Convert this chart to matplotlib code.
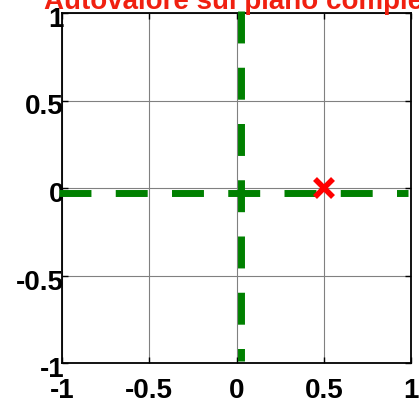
import matplotlib
matplotlib.use('Agg')
from matplotlib import pyplot as plt
from matplotlib import transforms

# data
real_axis_x = [-1, 1]
real_axis_y = [0, 0]
imag_axis_x = [0, 0]
imag_axis_y = [1, -1]
eig_re = [0.5]
eig_im = [0.0]
ticks = [-1, -0.5, 0, 0.5, 1]
tick_labels = ['-1', '-0.5', '0', '0.5', '1']

plt.rcParams['font.family'] = ['Liberation Sans', 'DejaVu Sans']
plt.rcParams['font.weight'] = 'bold'

fig = plt.figure(figsize=(4.19, 4.01), dpi=100)
ax = fig.add_axes([62 / 419, 1 - 363 / 401, 349 / 419, 350 / 401])

# matlab draws the thick lines a few pixels off
off_h = transforms.ScaledTranslation(-3.5 / 100, -5 / 100, fig.dpi_scale_trans)
off_v = transforms.ScaledTranslation(4 / 100, 2.5 / 100, fig.dpi_scale_trans)

ax.plot(real_axis_x, real_axis_y, color='green', lw=5, ls=(0, (4.6, 3.5)),
        transform=ax.transData + off_h, clip_on=False, zorder=3)
ax.plot(imag_axis_x, imag_axis_y, color='green', lw=5, ls=(0, (4.6, 3.5)),
        transform=ax.transData + off_v, clip_on=False, zorder=3)
ax.plot(eig_re, eig_im, 'x', color='red', ms=13, mew=4, zorder=4)

ax.set_xlim(-1, 1)
ax.set_ylim(-1, 1)
ax.set_xticks(ticks)
ax.set_yticks(ticks)
ax.set_xticklabels(tick_labels)
ax.set_yticklabels(tick_labels)
ax.tick_params(direction='in', length=4, width=1, labelsize=20,
               top=True, right=True)
ax.tick_params(axis='y', pad=-1.5)
ax.tick_params(axis='x', pad=11)
ax.grid(True, color='0.5', lw=0.8)
for s in ax.spines.values():
    s.set_linewidth(1.3)

lab_off = transforms.ScaledTranslation(0, -4 / 100, fig.dpi_scale_trans)
for lab in ax.get_yticklabels():
    lab.set_transform(lab.get_transform() + lab_off)

ax.set_title('Autovalore sul piano complesso', color='#f02010', fontsize=20,
             fontweight='bold', x=0.56, pad=3)

fig.savefig('out.png', dpi=100)
